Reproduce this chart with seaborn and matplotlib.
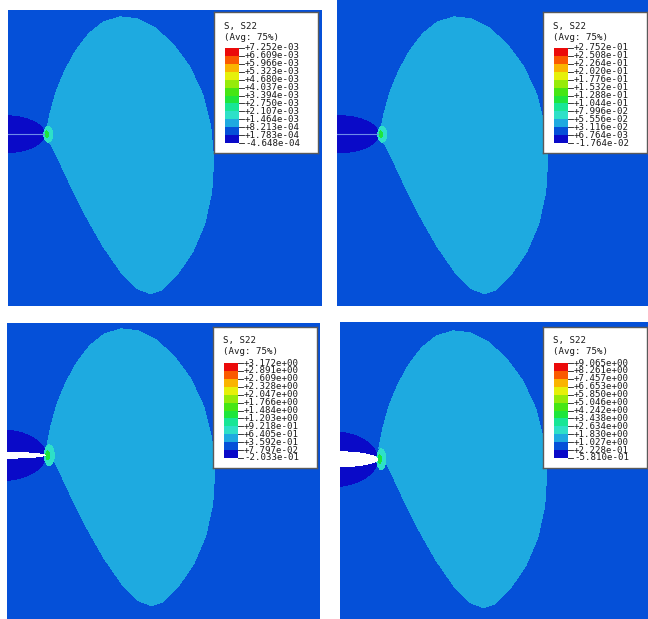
import numpy as np
import matplotlib
matplotlib.use("Agg")
import matplotlib.pyplot as plt
from matplotlib.colors import ListedColormap
from matplotlib.path import Path
import seaborn as sns

W, H = 648, 619
RES = 2  # field cells per output pixel

# 12-band Abaqus spectrum, low -> high (colours as they look in the scan)
BAND_COLORS = ["#0a0ac8", "#0550d8", "#1eaae0", "#2ee0c8", "#18e696", "#1ee63c",
               "#46e614", "#96eb0a", "#e6f00a", "#fab400", "#fa5a00", "#eb0a0a"]

# legend labels of the four S22 plots, top (max) to bottom (min)
LABELS_A = ["+7.252e-03", "+6.609e-03", "+5.966e-03", "+5.323e-03", "+4.680e-03",
            "+4.037e-03", "+3.394e-03", "+2.750e-03", "+2.107e-03", "+1.464e-03",
            "+8.213e-04", "+1.783e-04", "-4.648e-04"]
LABELS_B = ["+2.752e-01", "+2.508e-01", "+2.264e-01", "+2.020e-01", "+1.776e-01",
            "+1.532e-01", "+1.288e-01", "+1.044e-01", "+7.996e-02", "+5.556e-02",
            "+3.116e-02", "+6.764e-03", "-1.764e-02"]
LABELS_C = ["+3.172e+00", "+2.891e+00", "+2.609e+00", "+2.328e+00", "+2.047e+00",
            "+1.766e+00", "+1.484e+00", "+1.203e+00", "+9.218e-01", "+6.405e-01",
            "+3.592e-01", "+7.797e-02", "-2.033e-01"]
LABELS_D = ["+9.065e+00", "+8.261e+00", "+7.457e+00", "+6.653e+00", "+5.850e+00",
            "+5.046e+00", "+4.242e+00", "+3.438e+00", "+2.634e+00", "+1.830e+00",
            "+1.027e+00", "+2.228e-01", "-5.810e-01"]
PANEL_LABELS = [LABELS_A, LABELS_B, LABELS_C, LABELS_D]

# band (0 = lowest) that each zone of the model sits in
ZONE_BAND = {"far": 1, "lobe": 2, "flank": 0, "halo": 3, "core": 5}

# outline of the lobe around the crack tip (pixels, y down, tip at 0,0)
LOBE_DX = [0, 4, 10, 19, 30, 43, 58, 75, 92, 110, 128, 145, 158, 166, 169, 167,
           160, 148, 133, 117, 105, 92, 75, 57, 40, 24, 11, 3]
LOBE_DY = [0, -20, -42, -64, -84, -101, -113, -118, -116, -107, -91, -68, -40, -8,
           25, 58, 90, 118, 140, 156, 160, 155, 138, 112, 82, 50, 22, 7]

# layout of each panel (image pixels)
PANEL_RECT = [(8, 10, 314, 296), (337, 0, 311, 306), (7, 323, 313, 296), (340, 322, 308, 297)]
CRACK_TIP = [(45, 134), (379, 134), (46, 455), (378, 459)]
LOBE_SHIFT = [0, 0, -9, -11]
FLANK_SIZE = [(40, 19), (40, 19), (46, 26), (46, 28)]
CRACK_OPEN = [(40, 0), (40, 0), (45, 3.5), (40, 8)]
HALO_SIZE = [(5, 8.5), (5, 8.5), (5.5, 11), (5, 11)]
LEGEND_AT = [(214, 12), (543, 12), (213, 327), (543, 327)]
LEG_W, LEG_H = 104, 141

cmap = ListedColormap(BAND_COLORS)


def px_axes(fig, x, y, w, h):
    return fig.add_axes([x / W, 1 - (y + h) / H, w / W, h / H])


def s22_field(w, h, tip, shift, flank, crack, halo, levels):
    xs = (np.arange(int(w * RES)) + 0.5) / RES - tip[0]
    ys = (np.arange(int(h * RES)) + 0.5) / RES - tip[1]
    dx, dy = np.meshgrid(xs, ys)
    mid = lambda zone: 0.5 * (levels[ZONE_BAND[zone]] + levels[ZONE_BAND[zone] + 1])

    field = np.full(dx.shape, mid("far"))
    lobe = Path(np.c_[LOBE_DX, LOBE_DY]).contains_points(np.c_[dx.ravel(), dy.ravel() - shift])
    field[lobe.reshape(dx.shape)] = mid("lobe")
    fa, fb = flank
    field[((dx + fa) / fa) ** 2 + (dy / fb) ** 2 <= 1] = mid("flank")
    ha, hb = halo
    field[((dx - 3) / ha) ** 2 + (dy / hb) ** 2 <= 1] = mid("halo")
    field[((dx - 1.5) / (ha * 0.45)) ** 2 + (dy / (hb * 0.45)) ** 2 <= 1] = mid("core")
    ca, cb = crack
    if cb > 0:
        field[((dx + ca) / ca) ** 2 + (dy / cb) ** 2 <= 1] = np.nan
    return field


fig = plt.figure(figsize=(W / 100, H / 100), dpi=100)
fig.patch.set_facecolor("white")

for i, labels in enumerate(PANEL_LABELS):
    levels = np.array([float(s) for s in labels[::-1]])
    vmin, vmax = levels[0], levels[-1]
    x0, y0, w, h = PANEL_RECT[i]
    tip = (CRACK_TIP[i][0] - x0, CRACK_TIP[i][1] - y0)

    ax = px_axes(fig, x0, y0, w, h)
    field = s22_field(w, h, tip, LOBE_SHIFT[i], FLANK_SIZE[i], CRACK_OPEN[i],
                      HALO_SIZE[i], levels)
    sns.heatmap(field, cmap=cmap, vmin=vmin, vmax=vmax, cbar=False,
                xticklabels=False, yticklabels=False, rasterized=True, ax=ax)
    if CRACK_OPEN[i][1] == 0:
        # closed crack: only a faint line up to the tip
        ax.plot([0, (tip[0] - 1) * RES], [tip[1] * RES] * 2, color="#6e8ce8", lw=0.8)
    ax.axis("off")

    # legend box
    lx, ly = LEGEND_AT[i]
    box = px_axes(fig, lx, ly, LEG_W, LEG_H)
    box.set_xlim(0, LEG_W)
    box.set_ylim(LEG_H, 0)
    box.set_xticks([])
    box.set_yticks([])
    box.set_facecolor("white")
    for sp in box.spines.values():
        sp.set_color("#5a5a5a")
        sp.set_linewidth(1.0)
    font = dict(family="DejaVu Sans Mono", fontsize=6.6, color="#1a1a1a")
    box.text(10, 14, "S, S22", va="center", ha="left", **font)
    box.text(10, 25, "(Avg: 75%)", va="center", ha="left", **font)

    bar_x, bar_y, bar_w, bar_h = 11, 36, 14, 95
    for k, lab in enumerate(labels):
        yy = bar_y + k * bar_h / 12
        box.plot([bar_x + bar_w, bar_x + bar_w + 5], [yy, yy], color="#1a1a1a", lw=0.6)
        box.text(bar_x + bar_w + 6, yy, lab, va="center", ha="left", **font)

    bar = px_axes(fig, lx + bar_x, ly + bar_y, bar_w, bar_h)
    mids = 0.5 * (levels[:-1] + levels[1:])
    sns.heatmap(mids[::-1].reshape(-1, 1), cmap=cmap, vmin=vmin, vmax=vmax, cbar=False,
                xticklabels=False, yticklabels=False, ax=bar)
    bar.axis("off")

fig.savefig("out.png", dpi=100, facecolor="white")
